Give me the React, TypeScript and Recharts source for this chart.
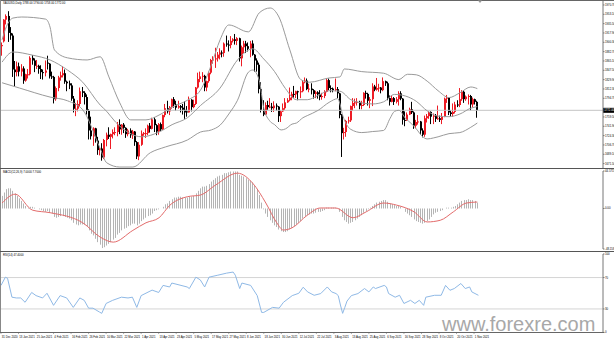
import React from "react";
import { Bar, ComposedChart, Line, ReferenceLine, XAxis, YAxis } from "recharts";

const FONT = "'Liberation Sans', Arial, sans-serif";
const PAD_RIGHT = 124.6;

// daily bars, [open, high, low, close]
const candles: [number, number, number, number][] = [
  [1893, 1900, 1875, 1895], [1902, 1944, 1900, 1943], [1943, 1953, 1934, 1950], [1950, 1959, 1901, 1918], [1918, 1929, 1905, 1913],
  [1913, 1917, 1835, 1849], [1849, 1865, 1817, 1844], [1844, 1864, 1836, 1855], [1855, 1862, 1836, 1845], [1845, 1859, 1836, 1851],
  [1851, 1855, 1822, 1828], [1828, 1841, 1826, 1840], [1840, 1850, 1832, 1840], [1840, 1874, 1838, 1871], [1871, 1876, 1858, 1866],
  [1866, 1870, 1844, 1856], [1856, 1867, 1850, 1856], [1856, 1858, 1841, 1850], [1850, 1857, 1831, 1844], [1844, 1849, 1830, 1843],
  [1843, 1866, 1836, 1847], [1862, 1875, 1849, 1860], [1860, 1861, 1832, 1836], [1836, 1845, 1831, 1835], [1835, 1837, 1785, 1793],
  [1793, 1817, 1790, 1814], [1814, 1837, 1808, 1834], [1834, 1845, 1828, 1838], [1838, 1855, 1834, 1842], [1842, 1849, 1822, 1826],
  [1826, 1828, 1808, 1823], [1823, 1828, 1812, 1819], [1819, 1823, 1790, 1794], [1794, 1799, 1768, 1775], [1775, 1786, 1761, 1775],
  [1775, 1791, 1770, 1784], [1784, 1815, 1780, 1808], [1808, 1816, 1797, 1805], [1805, 1808, 1783, 1797], [1797, 1802, 1764, 1771],
  [1771, 1774, 1717, 1734], [1734, 1760, 1717, 1723], [1723, 1740, 1705, 1738], [1738, 1739, 1711, 1715], [1715, 1722, 1688, 1697],
  [1697, 1702, 1687, 1700], [1700, 1710, 1677, 1683], [1683, 1718, 1680, 1716], [1716, 1730, 1704, 1726], [1726, 1740, 1718, 1722],
  [1722, 1728, 1699, 1727], [1727, 1736, 1719, 1731], [1731, 1740, 1725, 1731], [1731, 1750, 1723, 1745], [1745, 1755, 1727, 1736],
  [1736, 1746, 1726, 1745], [1745, 1748, 1729, 1739], [1739, 1740, 1720, 1727], [1727, 1737, 1723, 1734], [1734, 1738, 1720, 1725],
  [1725, 1735, 1718, 1732], [1732, 1733, 1705, 1712], [1712, 1714, 1680, 1685], [1685, 1712, 1678, 1707], [1707, 1734, 1705, 1728],
  [1728, 1731, 1724, 1729], [1729, 1738, 1720, 1729], [1729, 1745, 1725, 1743], [1743, 1748, 1730, 1737], [1737, 1758, 1736, 1755],
  [1755, 1759, 1731, 1744], [1744, 1746, 1725, 1732], [1732, 1748, 1726, 1746], [1746, 1749, 1733, 1736], [1736, 1764, 1735, 1763],
  [1763, 1784, 1759, 1776], [1776, 1790, 1766, 1770], [1770, 1780, 1763, 1778], [1778, 1794, 1775, 1793], [1793, 1797, 1777, 1783],
  [1783, 1790, 1771, 1777], [1777, 1790, 1775, 1780], [1780, 1782, 1768, 1777], [1777, 1784, 1764, 1773], [1773, 1789, 1756, 1768],
  [1770, 1780, 1760, 1768], [1768, 1798, 1768, 1792], [1792, 1793, 1770, 1778], [1778, 1792, 1776, 1784], [1784, 1816, 1782, 1815],
  [1815, 1843, 1813, 1831], [1831, 1845, 1825, 1836], [1836, 1844, 1825, 1837], [1837, 1839, 1808, 1815], [1815, 1828, 1808, 1827],
  [1827, 1845, 1824, 1843], [1843, 1869, 1840, 1867], [1867, 1874, 1860, 1868], [1868, 1890, 1852, 1870], [1870, 1882, 1864, 1877],
  [1877, 1889, 1868, 1881], [1881, 1885, 1872, 1880], [1880, 1900, 1873, 1898], [1898, 1913, 1892, 1896], [1896, 1904, 1883, 1895],
  [1895, 1912, 1889, 1903], [1903, 1908, 1900, 1906], [1906, 1916, 1896, 1903], [1903, 1910, 1895, 1908], [1908, 1909, 1864, 1870],
  [1870, 1894, 1855, 1891], [1891, 1903, 1880, 1898], [1898, 1903, 1880, 1893], [1893, 1900, 1883, 1888], [1888, 1903, 1872, 1898],
  [1898, 1904, 1875, 1877], [1877, 1878, 1845, 1866], [1866, 1870, 1845, 1858], [1858, 1862, 1804, 1812], [1812, 1825, 1768, 1773],
  [1773, 1791, 1761, 1764], [1764, 1787, 1763, 1782], [1782, 1790, 1773, 1778], [1778, 1795, 1776, 1779], [1779, 1786, 1769, 1776],
  [1776, 1789, 1769, 1781], [1781, 1785, 1771, 1779], [1779, 1780, 1750, 1761], [1761, 1772, 1750, 1770], [1770, 1785, 1769, 1776],
  [1776, 1795, 1773, 1787], [1787, 1795, 1786, 1791], [1791, 1815, 1789, 1796], [1796, 1807, 1791, 1803], [1803, 1818, 1796, 1802],
  [1802, 1809, 1795, 1808], [1808, 1809, 1791, 1806], [1806, 1817, 1795, 1808], [1808, 1829, 1806, 1825], [1825, 1834, 1823, 1828],
  [1828, 1832, 1810, 1812], [1812, 1822, 1806, 1813], [1813, 1823, 1802, 1810], [1810, 1812, 1794, 1803], [1803, 1809, 1795, 1806],
  [1806, 1808, 1794, 1802], [1802, 1810, 1791, 1797], [1797, 1805, 1792, 1799], [1799, 1810, 1795, 1807], [1807, 1833, 1806, 1829],
  [1829, 1832, 1810, 1814], [1814, 1819, 1806, 1813], [1813, 1815, 1806, 1810], [1810, 1832, 1808, 1812], [1812, 1816, 1795, 1804],
  [1804, 1805, 1757, 1763], [1763, 1765, 1684, 1729], [1729, 1739, 1717, 1731], [1731, 1754, 1722, 1752], [1752, 1760, 1747, 1753],
  [1753, 1781, 1750, 1780], [1780, 1795, 1771, 1786], [1786, 1794, 1776, 1787], [1787, 1795, 1781, 1788], [1788, 1790, 1774, 1781],
  [1781, 1790, 1774, 1782], [1782, 1806, 1780, 1805], [1805, 1809, 1794, 1803], [1803, 1805, 1781, 1790], [1790, 1797, 1776, 1793],
  [1793, 1823, 1780, 1817], [1817, 1820, 1808, 1811], [1811, 1833, 1809, 1814], [1814, 1822, 1807, 1815], [1815, 1816, 1804, 1810],
  [1810, 1834, 1808, 1827], [1827, 1828, 1818, 1823], [1823, 1826, 1791, 1795], [1795, 1800, 1781, 1788], [1788, 1800, 1787, 1795],
  [1795, 1797, 1782, 1788], [1788, 1797, 1785, 1793], [1793, 1808, 1781, 1804], [1804, 1808, 1791, 1794], [1794, 1795, 1745, 1754],
  [1754, 1770, 1742, 1753], [1753, 1768, 1752, 1764], [1764, 1777, 1763, 1774], [1774, 1788, 1765, 1768], [1768, 1770, 1737, 1743],
  [1743, 1754, 1738, 1750], [1750, 1763, 1745, 1751], [1751, 1752, 1726, 1734], [1734, 1738, 1721, 1726], [1726, 1762, 1722, 1757],
  [1757, 1765, 1749, 1761], [1761, 1770, 1756, 1769], [1769, 1770, 1746, 1760], [1760, 1766, 1746, 1762], [1762, 1765, 1750, 1756],
  [1756, 1781, 1754, 1757], [1757, 1762, 1750, 1754], [1754, 1767, 1746, 1760], [1760, 1796, 1759, 1794], [1794, 1801, 1786, 1796],
  [1796, 1797, 1763, 1768], [1768, 1772, 1760, 1765], [1765, 1785, 1760, 1769], [1769, 1788, 1766, 1783], [1783, 1791, 1778, 1782],
  [1782, 1814, 1778, 1793], [1793, 1810, 1790, 1807], [1807, 1810, 1786, 1793], [1793, 1800, 1790, 1798], [1798, 1802, 1783, 1799],
  [1799, 1801, 1772, 1783], [1783, 1796, 1778, 1793], [1793, 1794, 1783, 1788], [1788, 1790, 1758, 1772],
];

// Bollinger bands (20, 2), [bar, value]
const bbUpper: [number, number][] = [
  [0, 1905], [2, 1930], [5, 1946], [9, 1948], [20, 1944], [22, 1929], [24, 1886], [30, 1871], [39, 1867], [45, 1873],
  [49, 1835], [54, 1786], [59, 1754], [66, 1754], [72, 1763], [78, 1778], [85, 1791], [91, 1810], [96, 1858], [100, 1905],
  [104, 1933], [113, 1920], [118, 1956], [123, 1965], [127, 1948], [132, 1886], [137, 1830], [141, 1825], [150, 1833],
  [155, 1835], [157, 1850], [165, 1845], [175, 1842], [182, 1830], [186, 1840], [190, 1839], [195, 1827], [200, 1809],
  [205, 1796], [210, 1805], [215, 1816], [218, 1813],
];
const bbMiddle: [number, number][] = [
  [0, 1863], [5, 1882], [14, 1876], [22, 1867], [30, 1848], [37, 1825], [45, 1782], [48, 1770], [52, 1750], [58, 1730],
  [64, 1722], [72, 1731], [78, 1745], [85, 1758], [91, 1781], [100, 1814], [108, 1867], [115, 1888], [120, 1869], [125, 1845],
  [130, 1813], [135, 1792], [140, 1792], [145, 1800], [150, 1809], [155, 1808], [160, 1792], [165, 1786], [170, 1784],
  [175, 1788], [180, 1802], [185, 1799], [190, 1789], [195, 1771], [200, 1761], [205, 1760], [210, 1765], [215, 1776], [218, 1779],
];
const bbLower: [number, number][] = [
  [0, 1824], [8, 1814], [22, 1797], [30, 1790], [37, 1773], [45, 1700], [48, 1673], [54, 1665], [60, 1665], [68, 1692],
  [75, 1703], [85, 1716], [91, 1731], [96, 1735], [100, 1744], [104, 1765], [108, 1791], [113, 1844], [115, 1848], [118, 1828],
  [120, 1777], [123, 1751], [125, 1745], [128, 1735], [130, 1737], [133, 1746], [135, 1748], [138, 1758], [140, 1762],
  [145, 1772], [150, 1787], [154, 1794], [155, 1784], [156, 1766], [157, 1754], [160, 1736], [165, 1730], [170, 1732],
  [175, 1734], [178, 1757], [180, 1770], [182, 1772], [185, 1757], [188, 1746], [190, 1737], [193, 1722], [195, 1718],
  [198, 1720], [200, 1722], [205, 1728], [210, 1730], [215, 1740], [218, 1748],
];

// MACD(12,26,9) main line, one value per bar
const macdHist = [
  15, 19, 23, 24, 24, 21, 18, 15, 12, 9, 6, 3, 1,
  2, 2, 1, 0, -1, -2, -3, -4, -3, -5,
  -6, -10, -11, -10, -9, -9, -10, -11, -12, -14, -17, -19, -20,
  -19, -19, -19, -21, -26, -30, -32, -36, -40, -43, -47,
  -46, -44, -42, -40, -37, -35, -31, -29, -26, -24, -23, -21, -20, -18,
  -18, -20, -18, -15, -13, -11, -9, -8, -6, -3, -2, -1, 0, 2,
  5, 6, 9, 11, 13, 13, 14, 14, 13, 13, 13,
  14, 14, 15, 18, 21, 24, 26, 26, 27, 29, 32, 34, 36, 38, 39, 40, 42, 42, 43, 44, 44, 44, 44,
  40, 39, 38, 36, 34, 33, 31, 27, 23, 16, 7,
  -1, -6, -10, -14, -17, -20, -22, -25, -27, -28, -28, -27, -25, -23, -21, -19, -17, -15, -12, -9, -8,
  -7, -6, -6, -5, -4, -4, -3, -2, 1, 1, 1, 1, 1,
  0, -4, -10, -14, -16, -18, -17, -16, -14, -12, -10,
  -8, -5, -3, -1, 1, 3, 5, 7, 8, 9, 10, 10, 8, 6, 5, 4, 3, 3, 2,
  0, -4, -6, -8, -10, -13, -15, -16, -17, -18, -17, -15, -13, -10, -7, -5, -4, -3, -2, 0,
  1, 1, 1, 2, 3, 5, 7, 9, 10, 10, 11, 10, 10, 9, 7,
];
const macdSignal: [number, number][] = [
  [0, 6.5], [6, 17], [14, -2], [22, -5], [37, -17], [45, -34], [51, -40], [60, -26], [66, -17], [72, -11],
  [77, 4], [85, 14], [91, 16], [98, 28], [108, 42], [115, 30], [121, 6.5], [126, -17], [129, -25.6], [133, -23],
  [140, -8], [146, 0.6], [153, 0.6], [161, -11], [167, -4], [175, 6.5], [181, 4], [189, -4], [195, -16], [201, -14],
  [207, -4], [213, 6.5], [218, 7.7],
];

// RSI(14), [bar, value]
const rsiPoints: [number, number][] = [
  [0, 60], [2, 70.5], [3, 69], [5, 45], [7, 44], [9, 44], [11, 38.5], [14, 51], [16, 47], [19, 44], [21, 50], [24, 34.6],
  [27, 47], [30, 44], [33, 32], [36, 44], [38, 41], [40, 31], [42, 31], [45, 26], [46, 24.4], [48, 37], [51, 41], [55, 45],
  [58, 44], [60, 45], [62, 32], [64, 47], [69, 54], [72, 51], [74, 60], [77, 58], [78, 63], [85, 58], [86, 56], [89, 70.5],
  [91, 67], [93, 58], [95, 70.5], [99, 73], [103, 75.6], [106, 77], [107, 73], [109, 56], [110, 63], [114, 60], [117, 47],
  [119, 25.6], [120, 25.6], [124, 32], [127, 31], [129, 38.5], [133, 47], [136, 50], [138, 57.7], [140, 51.7], [143, 47.4],
  [146, 49.6], [149, 58], [151, 51.7], [153, 49.6], [154, 47], [155, 35], [156, 24.4], [157, 32], [158, 40], [160, 47],
  [163, 49.6], [166, 56], [168, 51.7], [170, 58], [171, 56], [175, 60], [176, 58], [177, 49.6], [180, 45], [182, 47.4],
  [184, 37], [187, 41], [189, 37], [191, 41], [193, 34.6], [194, 45], [198, 47.4], [201, 47.4], [203, 60], [205, 53.8],
  [207, 56], [210, 62.4], [212, 56], [214, 58], [215, 51.7], [218, 47.4],
];

// one date label every 8 bars
const dateLabels = [
  "31 Dec 2020", "13 Jan 2021", "25 Jan 2021", "4 Feb 2021", "16 Feb 2021", "26 Feb 2021", "10 Mar 2021",
  "22 Mar 2021", "1 Apr 2021", "13 Apr 2021", "23 Apr 2021", "5 May 2021", "17 May 2021", "27 May 2021",
  "8 Jun 2021", "18 Jun 2021", "30 Jun 2021", "12 Jul 2021", "22 Jul 2021", "3 Aug 2021", "13 Aug 2021",
  "25 Aug 2021", "6 Sep 2021", "16 Sep 2021", "28 Sep 2021", "8 Oct 2021", "20 Oct 2021", "1 Nov 2021",
];
const priceTicks = [
  1970.7, 1953.1, 1935.5, 1917.9, 1900.3, 1882.7, 1865.1, 1847.5, 1829.9, 1812.3, 1794.7,
  1759.5, 1741.9, 1724.3, 1706.7, 1689.1, 1671.5,
];
const macdTicks = [44.5715, 0, -48.158];
const rsiTicks = [100, 70, 30, 0];

type Row = {
  i: number; o: number; h: number; l: number; c: number; range: [number, number]; hist: number;
  up: number | null; mid: number | null; lo: number | null; sig: number | null; rsi: number | null;
};

const rows: Row[] = candles.map(([o, h, l, c], i) => ({
  i, o, h, l, c, range: [l, h], hist: macdHist[i], up: null, mid: null, lo: null, sig: null, rsi: null,
}));
const put = (pts: [number, number][], key: "up" | "mid" | "lo" | "sig" | "rsi") =>
  pts.forEach(([i, v]) => { rows[i][key] = v; });
put(bbUpper, "up");
put(bbMiddle, "mid");
put(bbLower, "lo");
put(macdSignal, "sig");
put(rsiPoints, "rsi");

const last = candles[candles.length - 1];
const lastClose = last[3];
const labelBars = dateLabels.map((_, k) => k * 8);
const tiny = { fontSize: 2.8, fill: "#000", fontFamily: FONT };

function Candle(props: any) {
  const { x, y, width, height, payload } = props;
  if (!payload || x == null) return null;
  const { o, h, l, c } = payload;
  const top = Math.min(y, y + height);
  const bot = Math.max(y, y + height);
  const k = h > l ? (bot - top) / (h - l) : 0;
  const yO = top + (h - o) * k;
  const yC = top + (h - c) * k;
  const color = c >= o ? "#ee1c25" : "#000";
  const r = Math.round(x + width / 2);
  return (
    <g>
      <line x1={r - 0.5} x2={r - 0.5} y1={top} y2={bot} stroke={color} strokeWidth={1} />
      <rect x={r - 1} y={Math.min(yO, yC)} width={2} height={Math.max(1, Math.abs(yC - yO))} fill={color} />
    </g>
  );
}

function HistLine(props: any) {
  const { x, y, width, height } = props;
  if (x == null) return null;
  const r = Math.round(x + width / 2);
  return <rect x={r - 1} y={Math.min(y, y + height)} width={1} height={Math.abs(height)} fill="#b4b4b4" />;
}

function PriceTag(props: any) {
  const vb = props.viewBox || {};
  const x = (vb.x || 0) + (vb.width || 0);
  const y = vb.y || 0;
  return (
    <g>
      <rect x={x} y={y - 2.5} width={11} height={5} fill="#000" />
      <text x={x + 1.2} y={y + 1} fontSize={2.8} fill="#fff" fontFamily={FONT}>
        {lastClose.toFixed(2)}
      </text>
    </g>
  );
}

function DateTick(props: any) {
  const { x, y, payload } = props;
  return (
    <g>
      <line x1={x} x2={x} y1={y} y2={y + 1.5} stroke="#777" strokeWidth={0.6} />
      <text x={x + 0.8} y={y + 5.4} {...tiny}>
        {dateLabels[payload.value / 8]}
      </text>
    </g>
  );
}

export default function App() {
  return (
    <div style={{ position: "absolute", left: 0, top: 0, width: 614, height: 341, background: "#fff", overflow: "hidden" }}>
      <div style={{ position: "absolute", left: 0, top: 0 }}>
        <ComposedChart width={614} height={168} data={rows} margin={{ top: 1, right: 0, bottom: 0, left: 1 }}>
          <XAxis dataKey="i" hide padding={{ left: 0, right: PAD_RIGHT }} />
          <YAxis
            orientation="right"
            width={11}
            type="number"
            domain={[1663.2, 1978.2]}
            allowDataOverflow
            ticks={priceTicks}
            interval={0}
            tick={tiny}
            tickSize={1.5}
            tickMargin={0.5}
            tickFormatter={(v: number) => v.toFixed(2)}
            axisLine={{ stroke: "#777" }}
            tickLine={{ stroke: "#777" }}
          />
          <ReferenceLine y={lastClose} stroke="#c4c4c4" label={<PriceTag />} />
          <Line dataKey="up" type="monotone" stroke="#9a9a9a" strokeWidth={1} dot={false} connectNulls isAnimationActive={false} />
          <Line dataKey="mid" type="monotone" stroke="#9a9a9a" strokeWidth={1} dot={false} connectNulls isAnimationActive={false} />
          <Line dataKey="lo" type="monotone" stroke="#9a9a9a" strokeWidth={1} dot={false} connectNulls isAnimationActive={false} />
          <Bar dataKey="range" barSize={2} shape={(p: any) => <Candle {...p} />} isAnimationActive={false} />
        </ComposedChart>
      </div>

      <div style={{ position: "absolute", left: 0, top: 169 }}>
        <ComposedChart width={614} height={82} data={rows} margin={{ top: 2, right: 0, bottom: 2, left: 1 }}>
          <XAxis dataKey="i" hide padding={{ left: 0, right: PAD_RIGHT }} />
          <YAxis
            orientation="right"
            width={11}
            type="number"
            domain={[-48.158, 44.5715]}
            allowDataOverflow
            ticks={macdTicks}
            interval={0}
            tick={tiny}
            tickSize={1.5}
            tickMargin={0.5}
            tickFormatter={(v: number) => (v === 0 ? "0.00" : String(v))}
            axisLine={{ stroke: "#777" }}
            tickLine={{ stroke: "#777" }}
          />
          <Bar dataKey="hist" barSize={1} shape={(p: any) => <HistLine {...p} />} isAnimationActive={false} />
          <Line dataKey="sig" type="monotone" stroke="#e36b6b" strokeWidth={1} dot={false} connectNulls isAnimationActive={false} />
        </ComposedChart>
      </div>

      <div style={{ position: "absolute", left: 0, top: 251 }}>
        <ComposedChart width={614} height={90} data={rows} margin={{ top: 3, right: 0, bottom: 0, left: 1 }}>
          <XAxis
            dataKey="i"
            height={8.5}
            padding={{ left: 0, right: PAD_RIGHT }}
            ticks={labelBars}
            interval={0}
            tick={(p: any) => <DateTick {...p} />}
            tickSize={0}
            tickMargin={0}
            axisLine={false}
            tickLine={false}
          />
          <YAxis
            orientation="right"
            width={11}
            type="number"
            domain={[0, 100]}
            ticks={rsiTicks}
            interval={0}
            tick={tiny}
            tickSize={1.5}
            tickMargin={0.5}
            axisLine={{ stroke: "#777" }}
            tickLine={{ stroke: "#777" }}
          />
          <ReferenceLine y={70} stroke="#d4d4d4" />
          <ReferenceLine y={30} stroke="#d4d4d4" />
          <Line dataKey="rsi" type="linear" stroke="#8fb9e6" strokeWidth={1} dot={false} connectNulls isAnimationActive={false} />
        </ComposedChart>
      </div>

      <svg width={614} height={341} style={{ position: "absolute", left: 0, top: 0, pointerEvents: "none" }}>
        <line x1={0} x2={614} y1={0.5} y2={0.5} stroke="#666" />
        <line x1={0.5} x2={0.5} y1={0} y2={333} stroke="#888" />
        <line x1={0} x2={614} y1={168.5} y2={168.5} stroke="#555" />
        <line x1={0} x2={614} y1={251.5} y2={251.5} stroke="#555" />
        <line x1={0} x2={604} y1={332.5} y2={332.5} stroke="#666" />
        <polygon points="478,0.5 482,0.5 480,3" fill="#999" />
        <text x={3} y={3.8} {...tiny}>
          {`XAUUSD,Daily  ${last[0].toFixed(2)} ${last[1].toFixed(2)} ${last[2].toFixed(2)} ${last[3].toFixed(2)}`}
        </text>
        <text x={3} y={172.5} {...tiny}>
          {`MACD(12,26,9) ${macdHist[macdHist.length - 1].toFixed(4)} ${macdSignal[macdSignal.length - 1][1].toFixed(4)}`}
        </text>
        <text x={3} y={256} {...tiny}>
          {`RSI(14) ${rsiPoints[rsiPoints.length - 1][1].toFixed(4)}`}
        </text>
        <text x={442} y={330.5} fontSize={20} fill="#a8a8a8" fontFamily={FONT}>
          www.forexre.com
        </text>
      </svg>
    </div>
  );
}
